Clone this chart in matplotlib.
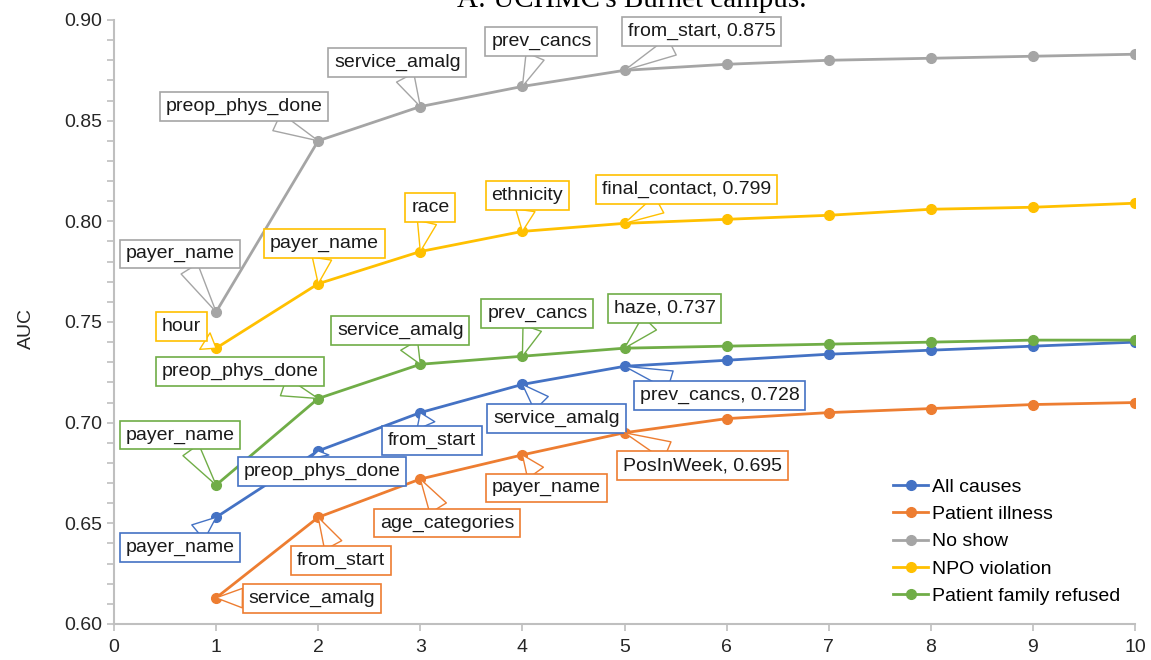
import numpy as np
import matplotlib
matplotlib.use("Agg")
import matplotlib.pyplot as plt

plt.rcParams['font.family'] = ['Liberation Sans', 'DejaVu Sans']

# Number of features in the model
n_features = [1, 2, 3, 4, 5, 6, 7, 8, 9, 10]

# AUC per cancellation reason
all_causes = [0.653, 0.686, 0.705, 0.719, 0.728, 0.731, 0.734, 0.736, 0.738, 0.740]
patient_illness = [0.613, 0.653, 0.672, 0.684, 0.695, 0.702, 0.705, 0.707, 0.709, 0.710]
no_show = [0.755, 0.840, 0.857, 0.867, 0.875, 0.878, 0.880, 0.881, 0.882, 0.883]
npo_violation = [0.737, 0.769, 0.785, 0.795, 0.799, 0.801, 0.803, 0.806, 0.807, 0.809]
family_refused = [0.669, 0.712, 0.729, 0.733, 0.737, 0.738, 0.739, 0.740, 0.741, 0.741]

series_names = ["All causes", "Patient illness", "No show", "NPO violation", "Patient family refused"]

# Feature added at each of the first five steps
all_causes_feats = ["payer_name", "preop_phys_done", "from_start", "service_amalg", "prev_cancs"]
patient_illness_feats = ["service_amalg", "from_start", "age_categories", "payer_name", "PosInWeek"]
no_show_feats = ["payer_name", "preop_phys_done", "service_amalg", "prev_cancs", "from_start"]
npo_violation_feats = ["hour", "payer_name", "race", "ethnicity", "final_contact"]
family_refused_feats = ["payer_name", "preop_phys_done", "service_amalg", "prev_cancs", "haze"]

colors = ["#4472C4", "#ED7D31", "#A5A5A5", "#FFC000", "#70AD47"]

# Where the callout boxes sit, in pixels from the point (dx, dy)
offsets = [
    [(-36, -30), (4, -21), (12, -28), (34, -34), (95, -29)],
    [(96, -1), (23, -43), (27, -44), (24, -33), (78, -33)],
    [(-36, 58), (-74, 34), (-23, 44), (19, 45), (77, 39)],
    [(-35, 22), (6, 40), (10, 44), (5, 36), (62, 34)],
    [(-36, 50), (-78, 27), (-20, 34), (15, 43), (40, 40)],
]


def callouts(ax, xs, ys, feats, color, offs):
    for i, feat in enumerate(feats):
        text = feat
        # Last step also shows the AUC
        if i == len(feats) - 1:
            text = "%s, %.3f" % (feat, ys[i])
        ax.annotate(text, xy=(xs[i], ys[i]), xytext=offs[i], textcoords="offset pixels",
                    ha="center", va="center", fontsize=14, color="#1a1a1a", zorder=6,
                    bbox=dict(boxstyle="square,pad=0.3", fc="white", ec=color, lw=1.2),
                    arrowprops=dict(arrowstyle="wedge,tail_width=1.0", fc="white", ec=color,
                                    lw=1.0, shrinkA=0, shrinkB=0))


def plot_results():
    fig = plt.figure(figsize=(11.51, 6.6), dpi=100)
    ax = fig.add_axes([114 / 1151, 1 - 624 / 660, 1021 / 1151, 604 / 660])

    data = [all_causes, patient_illness, no_show, npo_violation, family_refused]
    feats = [all_causes_feats, patient_illness_feats, no_show_feats, npo_violation_feats, family_refused_feats]

    xs = np.array(n_features)
    for name, ys, color in zip(series_names, data, colors):
        ax.plot(xs, ys, '-o', color=color, lw=2.0, markersize=7, label=name, zorder=3)

    for ys, fs, color, offs in zip(data, feats, colors, offsets):
        callouts(ax, xs, ys, fs, color, offs)

    # Axes look
    ax.set_xlim(0, 10)
    ax.set_ylim(0.60, 0.90)
    ax.set_xticks(range(0, 11))
    ax.set_yticks(np.arange(0.60, 0.901, 0.05))
    ax.set_yticks(np.arange(0.60, 0.901, 0.01), minor=True)
    ax.set_yticklabels(["%.2f" % v for v in np.arange(0.60, 0.901, 0.05)])
    for side in ["top", "right"]:
        ax.spines[side].set_visible(False)
    for side in ["left", "bottom"]:
        ax.spines[side].set_color("#BFBFBF")
        ax.spines[side].set_linewidth(1.5)
    ax.tick_params(which="both", colors="#BFBFBF", width=1.2, length=5, labelsize=14,
                   labelcolor="#262626")
    ax.tick_params(axis="x", pad=6)
    ax.set_ylabel("AUC", fontsize=14, color="#262626")
    ax.yaxis.set_label_coords(-0.077, 0.49)

    ax.legend(loc="upper left", bbox_to_anchor=(0.763, 0.2414), frameon=False, fontsize=14,
              handlelength=1.8, handletextpad=0.2, labelspacing=0.5, borderpad=0,
              borderaxespad=0)

    # Title is cut off by the top edge in the source
    fig.text(632 / 1151, 1 - 7 / 660, "A: UCHMC's Burnet campus.", ha="center", va="baseline",
             fontsize=21, family="Liberation Serif")

    fig.savefig("out.png", dpi=100)


plot_results()
